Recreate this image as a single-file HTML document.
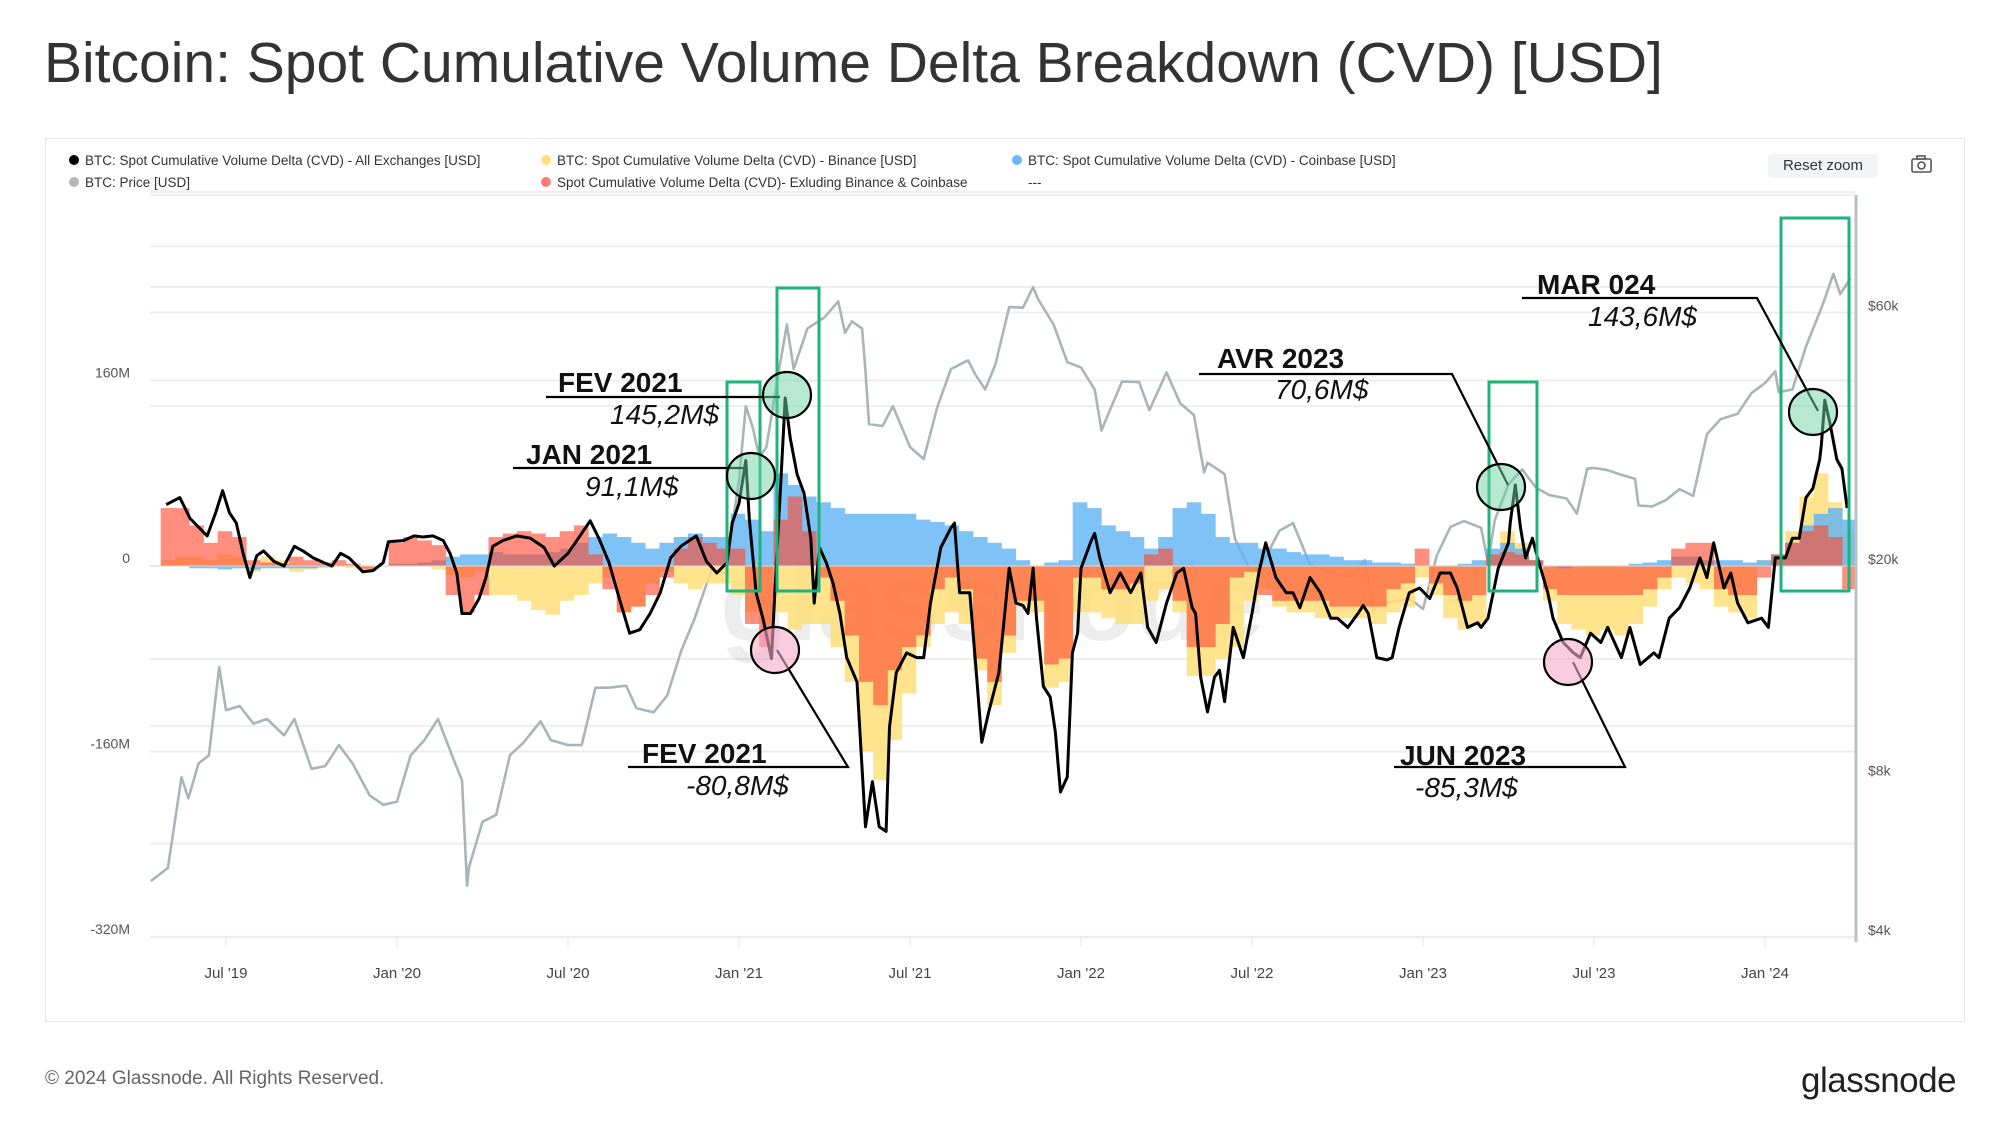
<!DOCTYPE html>
<html><head><meta charset="utf-8"><style>
body{margin:0;background:#fff;width:2000px;height:1128px;overflow:hidden;font-family:"Liberation Sans",sans-serif}
#wrap{position:relative;width:2000px;height:1128px}
.abs{position:absolute;white-space:nowrap}
</style></head><body>
<div id="wrap">
<div class="abs" style="left:44px;top:30px;font-size:57px;color:#333">Bitcoin: Spot Cumulative Volume Delta Breakdown (CVD) [USD]</div>
<div class="abs" style="left:45px;top:138px;width:1920px;height:884px;border:1px solid #e6e6e6;box-sizing:border-box"></div>
<div class="abs" style="left:1768px;top:154px;width:110px;height:24px;background:#f3f4f6;border-radius:4px;font-size:15px;color:#333;text-align:center;line-height:24px">Reset zoom</div>
<div class="abs" style="left:45px;top:1068px;font-size:19px;color:#666">© 2024 Glassnode. All Rights Reserved.</div>
<div class="abs" style="left:1801px;top:1061px;font-size:35px;color:#222;letter-spacing:-0.5px">glassnode</div>
<svg id="chart" width="2000" height="1128" style="position:absolute;left:0;top:0"></svg>
</div>
<script>
const cvdT=[2019.325,2019.365,2019.395,2019.445,2019.47,2019.49,2019.51,2019.53,2019.55,2019.57,2019.59,2019.61,2019.64,2019.67,2019.70,2019.725,2019.755,2019.785,2019.81,2019.835,2019.86,2019.90,2019.93,2019.96,2019.975,2020.02,2020.05,2020.075,2020.105,2020.135,2020.155,2020.175,2020.19,2020.215,2020.24,2020.26,2020.28,2020.31,2020.35,2020.39,2020.43,2020.46,2020.50,2020.535,2020.565,2020.59,2020.62,2020.65,2020.68,2020.71,2020.74,2020.77,2020.80,2020.83,2020.855,2020.875,2020.905,2020.935,2020.965,2020.98,2021.0,2021.02,2021.03,2021.05,2021.07,2021.095,2021.11,2021.12,2021.135,2021.15,2021.17,2021.19,2021.21,2021.22,2021.235,2021.255,2021.275,2021.295,2021.315,2021.345,2021.37,2021.39,2021.41,2021.43,2021.44,2021.46,2021.49,2021.52,2021.54,2021.56,2021.59,2021.62,2021.63,2021.645,2021.675,2021.695,2021.71,2021.73,2021.76,2021.79,2021.81,2021.83,2021.845,2021.86,2021.87,2021.89,2021.91,2021.925,2021.94,2021.96,2021.975,2021.99,2022.0,2022.03,2022.04,2022.055,2022.085,2022.115,2022.145,2022.175,2022.195,2022.22,2022.25,2022.28,2022.30,2022.325,2022.335,2022.35,2022.37,2022.39,2022.405,2022.42,2022.445,2022.475,2022.50,2022.52,2022.54,2022.57,2022.60,2022.62,2022.64,2022.67,2022.70,2022.73,2022.75,2022.78,2022.81,2022.825,2022.84,2022.865,2022.895,2022.91,2022.93,2022.96,2022.99,2023.02,2023.05,2023.08,2023.10,2023.13,2023.16,2023.17,2023.19,2023.22,2023.25,2023.255,2023.27,2023.285,2023.30,2023.32,2023.335,2023.365,2023.38,2023.41,2023.44,2023.46,2023.49,2023.52,2023.54,2023.58,2023.605,2023.635,2023.675,2023.69,2023.72,2023.75,2023.78,2023.81,2023.83,2023.85,2023.88,2023.90,2023.92,2023.95,2023.99,2024.01,2024.03,2024.06,2024.08,2024.10,2024.12,2024.14,2024.16,2024.165,2024.175,2024.19,2024.21,2024.225,2024.24];
const cvdV=[53,59,41,26,46,65,46,37,11,-10,9,13,4,0,17,13,7,3,0,11,7,-5,-4,3,21,22,26,25,26,22,11,-6,-41,-41,-28,-10,17,22,26,24,16,0,11,26,39,24,3,-28,-58,-55,-41,-23,7,17,22,26,4,-6,3,37,54,91,41,-23,-45,-80,7,59,145,110,79,63,24,-32,16,3,-15,-41,-79,-100,-225,-186,-225,-229,-139,-92,-75,-79,-79,-32,16,33,37,-23,-23,-96,-152,-126,-92,-2,-32,-34,-41,-2,-45,-104,-113,-143,-195,-182,-75,-58,-2,22,28,7,-23,-6,-23,-6,-53,-66,-32,-6,-2,-36,-41,-96,-126,-96,-90,-117,-53,-79,-41,-6,20,-10,-23,-23,-36,-10,-23,-45,-45,-53,-41,-34,-41,-79,-81,-79,-53,-23,-19,-28,-6,-6,-19,-53,-49,-53,-45,-2,20,37,70,33,7,24,7,-23,-45,-66,-75,-79,-58,-66,-53,-79,-53,-85,-75,-79,-45,-36,-19,7,-10,20,-19,-6,-32,-49,-45,-53,7,7,24,24,59,67,92,105,143,123,92,84,50,7];
const barStart=2019.33;
const binance=[5,8,8,5,10,8,-5,8,5,-5,-3,-2,0,-2,-2,0,0,0,0,-3,-8,-10,-5,-25,-25,-30,-38,-42,-30,-25,-15,-10,-40,-35,-15,-5,-15,-20,-15,-15,-25,-40,-50,-40,-55,-50,-50,-70,-100,-160,-185,-150,-110,-70,-50,-40,-50,-90,-120,-75,-35,-40,-105,-100,-40,-40,-45,-50,-50,-30,-20,-40,-95,-95,-80,-70,-30,-20,-35,-40,-40,-45,-45,-45,-45,-50,-40,-35,-10,-25,-45,-55,-50,10,30,20,5,-30,-50,-55,-60,-55,-60,-50,-35,-20,-10,-15,-20,-35,-40,-45,5,10,30,60,80,55,30];
const coinbase=[0,0,-2,-2,-3,-2,-3,-2,-2,-2,-2,-1,0,0,0,0,2,2,3,5,8,10,10,12,10,10,10,12,15,20,25,28,25,20,15,20,25,28,25,25,45,40,30,80,70,60,55,50,45,45,45,45,45,40,38,35,30,25,20,15,5,0,3,5,55,50,35,30,25,15,25,50,55,45,25,20,20,15,15,12,10,10,8,5,5,3,3,2,0,0,0,2,5,15,20,15,5,0,-2,0,0,0,0,2,3,5,8,8,5,5,5,3,5,10,20,35,45,50,40];
const others=[50,50,35,20,30,25,5,3,2,8,5,3,5,2,-3,0,20,25,22,18,-25,-40,-25,25,28,30,28,25,30,35,10,-20,-40,-35,-25,-10,15,25,20,15,15,-50,-70,40,60,30,-10,-30,-60,-100,-120,-90,-70,-60,-20,-10,-20,-80,-100,-60,-30,-30,-85,-80,-10,-10,-20,-20,-15,10,15,-30,-70,-70,-50,-10,-5,-25,-30,-30,-30,-30,-35,-35,-35,-35,-20,-15,15,-15,-25,-30,-25,10,12,10,5,-20,-25,-25,-25,-25,-25,-25,-20,-10,15,20,20,-20,-25,-25,-10,10,20,30,35,25,-20];
const priceT=[2019.28,2019.33,2019.37,2019.39,2019.42,2019.45,2019.48,2019.50,2019.54,2019.58,2019.62,2019.67,2019.70,2019.75,2019.79,2019.83,2019.87,2019.92,2019.96,2020.0,2020.04,2020.08,2020.12,2020.17,2020.19,2020.205,2020.21,2020.25,2020.29,2020.33,2020.37,2020.42,2020.45,2020.5,2020.54,2020.58,2020.62,2020.67,2020.70,2020.75,2020.79,2020.83,2020.87,2020.92,2020.96,2021.0,2021.02,2021.04,2021.06,2021.08,2021.12,2021.14,2021.16,2021.2,2021.25,2021.29,2021.31,2021.33,2021.36,2021.37,2021.38,2021.42,2021.45,2021.5,2021.54,2021.58,2021.62,2021.67,2021.69,2021.72,2021.75,2021.79,2021.83,2021.86,2021.875,2021.92,2021.96,2022.0,2022.04,2022.06,2022.08,2022.12,2022.17,2022.2,2022.25,2022.29,2022.33,2022.36,2022.37,2022.42,2022.45,2022.5,2022.54,2022.58,2022.62,2022.67,2022.71,2022.75,2022.79,2022.83,2022.855,2022.87,2022.92,2022.96,2023.0,2023.04,2023.08,2023.12,2023.17,2023.19,2023.21,2023.25,2023.29,2023.33,2023.37,2023.42,2023.45,2023.48,2023.5,2023.54,2023.58,2023.62,2023.63,2023.67,2023.71,2023.75,2023.79,2023.83,2023.87,2023.92,2023.96,2024.0,2024.03,2024.04,2024.08,2024.12,2024.17,2024.2,2024.22,2024.25];
const priceV=[5100,5400,8000,7300,8500,8800,12900,10700,10900,10100,10300,9600,10300,8300,8400,9200,8500,7400,7100,7200,8800,9400,10300,8500,7900,5000,5400,6600,6800,8800,9300,10200,9400,9200,9200,11800,11800,11900,10800,10600,11400,13800,15900,19700,19400,29000,40000,36500,32000,33500,48000,57000,47000,56000,58800,63000,55000,57800,56000,46500,37000,36700,40000,33500,31800,39900,47000,48800,46000,43000,48000,61500,61300,67000,63500,57000,48400,47300,43000,36000,38700,44500,44400,39300,46300,40500,38500,30000,31300,29800,22500,19300,20800,23300,24100,20100,19700,19300,19100,20500,16500,16900,17200,17400,16600,20900,23700,24300,23600,20300,24400,28500,30400,28100,27200,26800,25100,30500,30600,30300,29700,29200,26000,25900,26600,27900,27100,35400,37800,38700,42300,44200,46500,42500,43000,51800,62400,71000,65000,69700];
const leftTicks=[160,0,-160,-320];
const leftLabels=["160M","0","-160M","-320M"];
const rightTicks=[60000,20000,8000,4000];
const rightLabels=["$60k","$20k","$8k","$4k"];
const xTicks=[2019.5,2020,2020.5,2021,2021.5,2022,2022.5,2023,2023.5,2024];
const xLabels=["Jul '19","Jan '20","Jul '20","Jan '21","Jul '21","Jan '22","Jul '22","Jan '23","Jul '23","Jan '24"];

const NS="http://www.w3.org/2000/svg";
const svg=document.getElementById('chart');
const X=t=>397+(t-2020)*342;
const YL=v=>566-v*1.159;
const YR=p=>566-531*Math.log10(p/20000);
function mk(tag,attrs,parent){const e=document.createElementNS(NS,tag);for(const k in attrs)e.setAttribute(k,attrs[k]);(parent||svg).appendChild(e);return e;}

const grid=mk('g',{});


[100000,80000,60000,40000,10000,6000,4000].forEach(p=>{mk('line',{x1:150,x2:1855,y1:YR(p),y2:YR(p),stroke:'#eeeeee','stroke-width':2},grid);});
leftTicks.forEach(v=>{mk('line',{x1:150,x2:1855,y1:YL(v),y2:YL(v),stroke:'#eeeeee','stroke-width':2},grid);});
mk('line',{x1:150,x2:1855,y1:192,y2:192,stroke:'#eeeeee','stroke-width':2},grid);
mk('line',{x1:150,x2:1855,y1:287,y2:287,stroke:'#eeeeee','stroke-width':2},grid);
mk('line',{x1:150,x2:1855,y1:659,y2:659,stroke:'#eeeeee','stroke-width':2},grid);

const wm=mk('text',{x:720,y:640,'font-size':110,'font-weight':'bold',fill:'rgba(0,0,0,0.07)','font-family':'Liberation Sans, sans-serif'});
wm.textContent='glassnode';



const pp=priceT.map((t,i)=>X(t).toFixed(1)+','+YR(priceV[i]).toFixed(1)).join(' ');
const priceLine=mk('polyline',{points:pp,fill:'none',stroke:'#aab5b9','stroke-width':2.6,'stroke-linejoin':'round'});



const bw=342/24;
function drawBars(arr,color,op,name){
  const g=mk('g',{opacity:op});
  
  
  arr.forEach((v,i)=>{
    const t=barStart+i/24;
    const y0=YL(0),y1=YL(v);
    const r=mk('rect',{x:(X(t)-bw/2).toFixed(1),y:Math.min(y0,y1).toFixed(1),width:(bw+0.3).toFixed(1),height:Math.abs(y1-y0).toFixed(1),fill:color},g);
    
    
  });
}
drawBars(binance,'#ffe07a',0.85,'binance-cvd');
drawBars(coinbase,'#5fb4f4',0.8,'coinbase-cvd');
drawBars(others,'#ff4a30',0.62,'others-cvd');

mk('line',{x1:150,x2:1855,y1:YL(0),y2:YL(0),stroke:'#dddddd','stroke-width':1});

const cp=cvdT.map((t,i)=>X(t).toFixed(1)+','+YL(cvdV[i]).toFixed(1)).join(' ');
const cvdLine=mk('polyline',{points:cp,fill:'none',stroke:'#000','stroke-width':3,'stroke-linejoin':'round'});



const ra=mk('line',{x1:1856,x2:1856,y1:195,y2:942,stroke:'#b8c2c6','stroke-width':3});


leftTicks.forEach((v,i)=>{const t=mk('text',{x:130,y:YL(v)-3,'text-anchor':'end','font-size':14,fill:'#555'});t.textContent=leftLabels[i];

});
rightTicks.forEach((p,i)=>{const t=mk('text',{x:1868,y:YR(p)-2,'font-size':14,fill:'#555'});t.textContent=rightLabels[i];

});
xTicks.forEach((tt,i)=>{mk('line',{x1:X(tt),x2:X(tt),y1:937,y2:947,stroke:'#e6e6e6','stroke-width':1});
const t=mk('text',{x:X(tt),y:978,'text-anchor':'middle','font-size':15,fill:'#444'});t.textContent=xLabels[i];

});

const legend=[[74,160,'#000','BTC: Spot Cumulative Volume Delta (CVD) - All Exchanges [USD]'],[546,160,'#ffe07a','BTC: Spot Cumulative Volume Delta (CVD) - Binance [USD]'],[1017,160,'#6ab8f5','BTC: Spot Cumulative Volume Delta (CVD) - Coinbase [USD]'],[74,182,'#b0b8bb','BTC: Price [USD]'],[546,182,'#ff7a7a','Spot Cumulative Volume Delta (CVD)- Exluding Binance & Coinbase']];
legend.forEach(l=>{const g=mk('g',{});


mk('circle',{cx:l[0],cy:l[1],r:5,fill:l[2]},g);const t=mk('text',{x:l[0]+11,y:l[1]+5,'font-size':13.5,fill:'#333'},g);t.textContent=l[3];});
const dash=mk('text',{x:1028,y:187,'font-size':13.5,fill:'#333'});dash.textContent='---';



const cam=mk('g',{stroke:'#555','stroke-width':1.6,fill:'none'});


mk('rect',{x:1912,y:159,width:19,height:13,rx:1.5},cam);mk('circle',{cx:1921.5,cy:165.5,r:3.5},cam);mk('rect',{x:1917,y:156,width:8,height:3},cam);

const ann=mk('g',{});


[[727,382,33,209],[777,288,42,303],[1489,382,48,209],[1781,218,68,373]].forEach(b=>{const r=mk('rect',{x:b[0],y:b[1],width:b[2],height:b[3],fill:'none',stroke:'#1db37a','stroke-width':3},ann);

});
const lines=[[[513,468],[744,468]],[[546,397],[780,397]],[[628,767],[848,767],[777,650]],[[1199,374],[1452,374],[1508,485]],[[1394,767],[1625,767],[1573,662]],[[1522,298],[1757,298],[1818,411]]];
lines.forEach(l=>{const p=mk('polyline',{points:l.map(a=>a.join(',')).join(' '),fill:'none',stroke:'#000','stroke-width':2.2},ann);

});
[[751,476,'g'],[787,395,'g'],[1501,487,'g'],[1813,412,'g'],[775,650,'p'],[1568,662,'p']].forEach(c=>{const e=mk('ellipse',{cx:c[0],cy:c[1],rx:24,ry:23,fill:c[2]=='g'?'rgba(110,210,165,0.5)':'rgba(245,170,200,0.6)',stroke:'#000','stroke-width':2.2},ann);

});
const labels=[[558,392,'FEV 2021',1],[610,424,'145,2M$',0],[526,464,'JAN 2021',1],[585,496,'91,1M$',0],[642,763,'FEV 2021',1],[686,795,'-80,8M$',0],[1217,368,'AVR 2023',1],[1275,399,'70,6M$',0],[1400,765,'JUN 2023',1],[1415,797,'-85,3M$',0],[1537,294,'MAR 024',1],[1588,326,'143,6M$',0]];
labels.forEach(l=>{const t=mk('text',{x:l[0],y:l[1],'font-size':28,'font-weight':l[3]?'bold':'normal','font-style':l[3]?'normal':'italic',fill:'#111'},ann);t.textContent=l[2];

});
</script>
</body></html>
